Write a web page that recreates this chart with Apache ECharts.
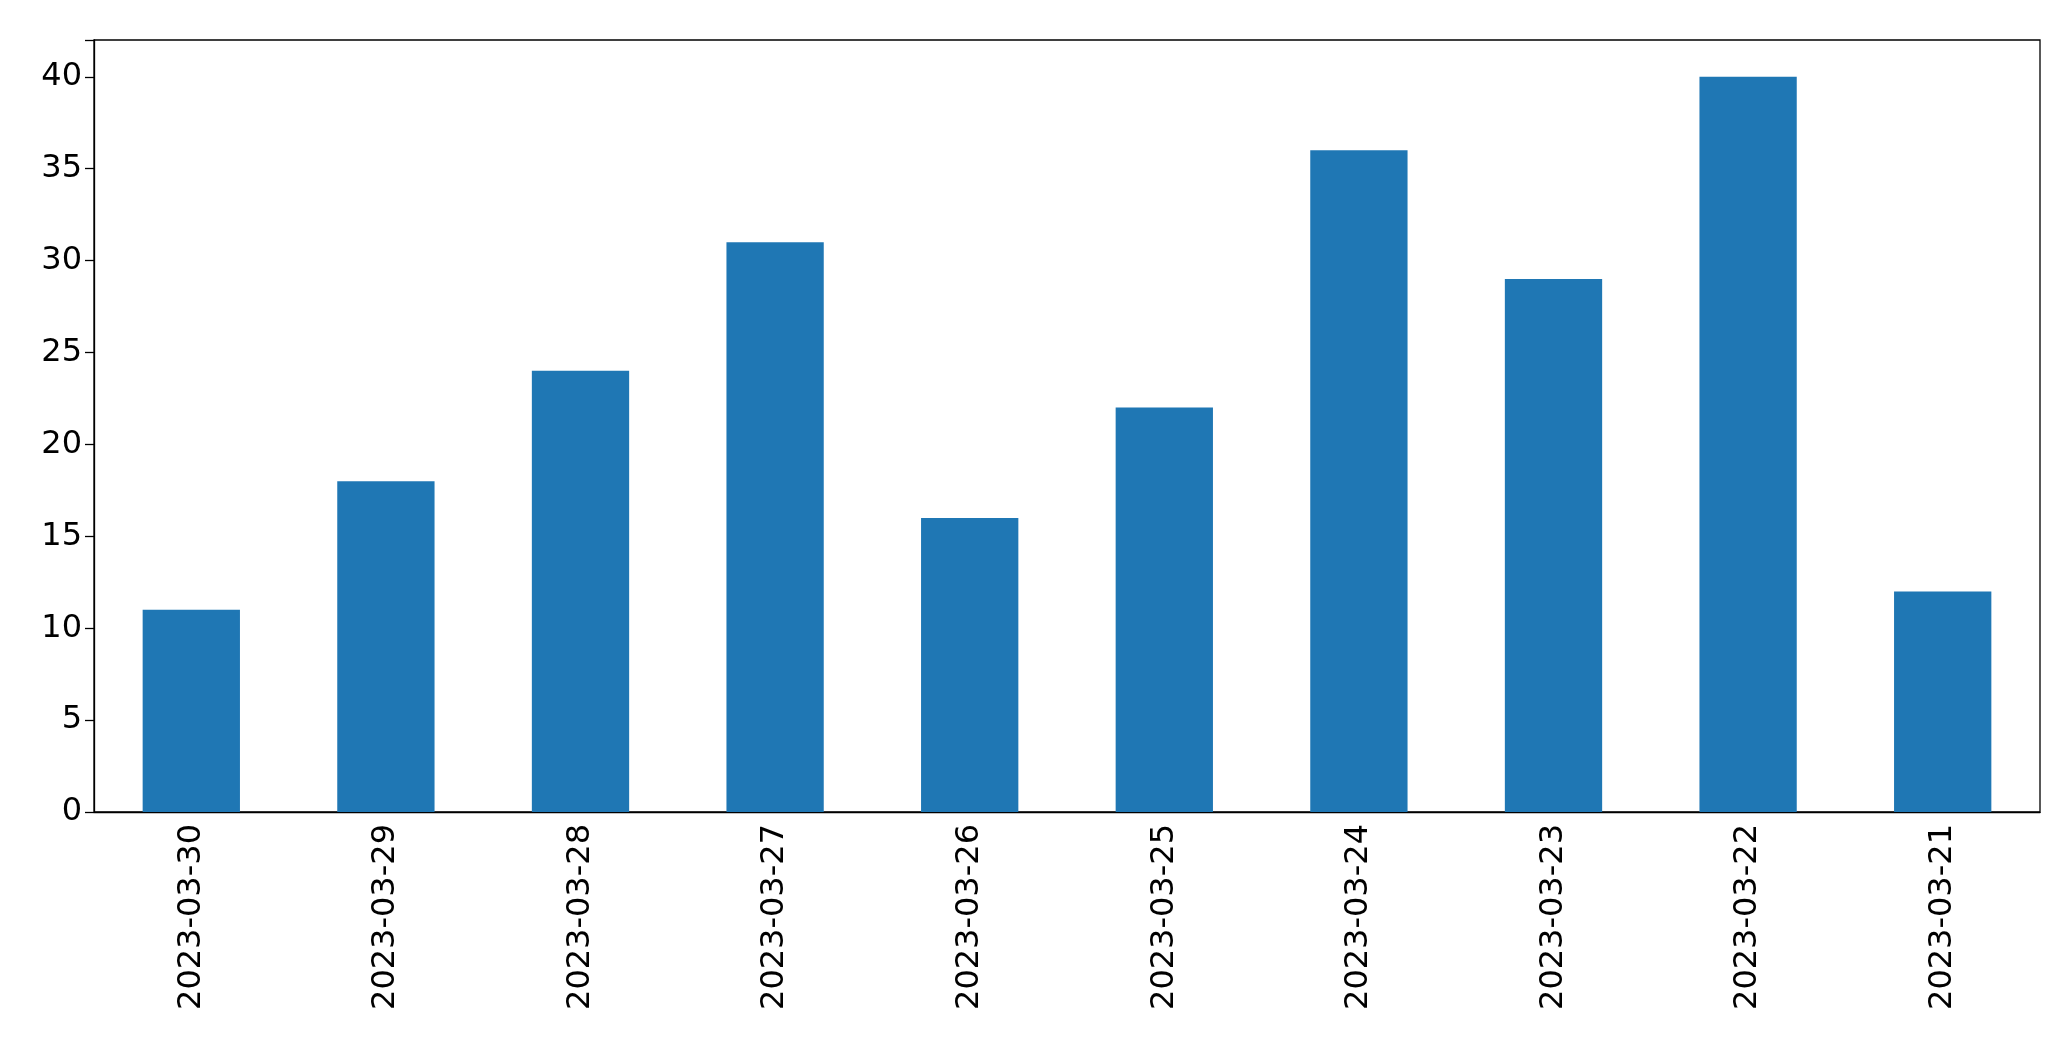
<!DOCTYPE html>
<html><head><meta charset="utf-8">
<script src="https://cdn.jsdelivr.net/npm/echarts@6/dist/echarts.min.js"></script>
<style>html,body{margin:0;padding:0;background:#fff}#c{width:2071px;height:1061px}</style>
</head><body><div id="c"></div>
<script>
const categories = ['2023-03-30','2023-03-29','2023-03-28','2023-03-27','2023-03-26','2023-03-25','2023-03-24','2023-03-23','2023-03-22','2023-03-21'];
const values = [11,18,24,31,16,22,36,29,40,12];
const chart = echarts.init(document.getElementById('c'));
const font = 'DejaVu Sans';
chart.setOption({
  animation:false,
  grid:{left:94,right:31,top:40,bottom:249,show:true,borderColor:'#000',borderWidth:1.3,backgroundColor:'transparent'},
  xAxis:{type:'category',data:categories,
    axisLine:{lineStyle:{color:'#000',width:1.3}},
    axisTick:{alignWithLabel:true,length:9,lineStyle:{color:'#000',width:1.3}},
    axisLabel:{rotate:90,fontFamily:font,fontSize:32,color:'#000',margin:12}},
  yAxis:{type:'value',min:0,max:42,interval:5,
    splitLine:{show:false},
    axisLine:{show:true,lineStyle:{color:'#000',width:1.3}},
    axisTick:{show:true,length:9,lineStyle:{color:'#000',width:1.3}},
    axisLabel:{fontFamily:font,fontSize:32,color:'#000',margin:12,
      formatter:v=>v>40?'':String(v)}},
  series:[{type:'bar',data:values,barWidth:'50%',itemStyle:{color:'#1f77b4'}}]
});
</script></body></html>
